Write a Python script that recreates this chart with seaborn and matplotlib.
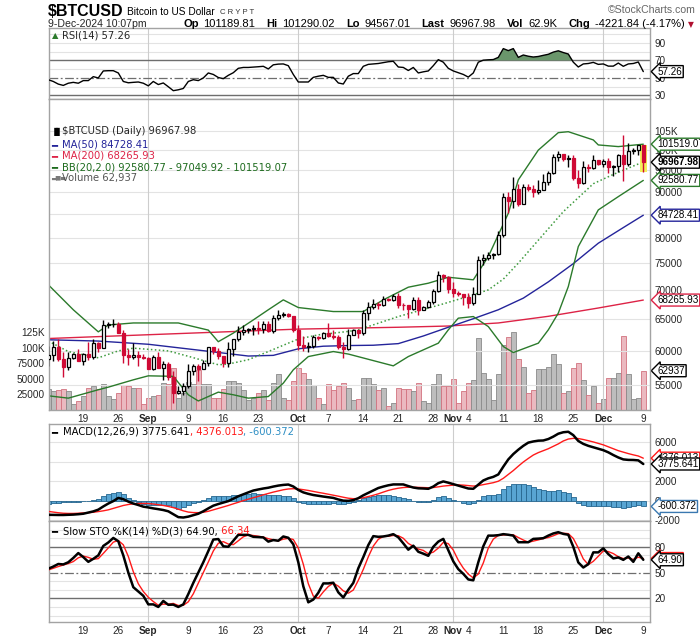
import numpy as np
import pandas as pd
import matplotlib
matplotlib.use("Agg")
import matplotlib.pyplot as plt
import matplotlib.transforms as mtransforms
from matplotlib.ticker import NullLocator
import seaborn as sns

# ---------------- data ----------------
dates = pd.date_range("2024-08-12", "2024-12-09", freq="D")

opens = [58720, 59350, 60610, 58740, 57560, 58880, 59480, 58480, 59490, 59010,
         61160, 60380, 64090, 64180, 64220, 62830, 59420, 59020, 59360, 59120,
         58970, 57300, 59120, 57480, 57970, 56160, 53950, 54140, 54840, 57020,
         57650, 57340, 58130, 60570, 60000, 59180, 58210, 60310, 61760, 62950,
         63200, 63350, 63580, 63340, 64280, 63140, 65180, 65800, 65880, 65600,
         63330, 60840, 60630, 60750, 62090, 62050, 62820, 62220, 62130, 60580,
         60270, 62450, 63190, 62850, 66050, 67040, 67610, 67400, 68420, 68360,
         69000, 67370, 67360, 66680, 68200, 66640, 67010, 67930, 69900, 72720,
         72340, 70220, 69480, 69310, 68740, 67810, 69360, 75640, 75900, 76550,
         76680, 80470, 88700, 87950, 90580, 87250, 91070, 90600, 89850, 90460,
         92310, 94290, 98320, 98900, 97700, 98000, 93040, 91990, 95860, 95640,
         97460, 96450, 97280, 95860, 96000, 98770, 96600, 99900, 99920, 101190]
highs = [60680, 61570, 61780, 59830, 59820, 59670, 60260, 59600, 61400, 61800,
         61400, 64950, 64500, 65000, 64480, 63200, 60230, 61170, 59900, 59440,
         59050, 59410, 59810, 58510, 58300, 56990, 54840, 55300, 58050, 58040,
         57990, 58590, 60650, 60640, 60390, 59200, 61320, 61790, 63850, 64120,
         63560, 63990, 64740, 64690, 64790, 65790, 66480, 66260, 66070, 65620,
         64130, 62360, 61430, 62440, 62360, 62970, 64470, 63180, 62530, 61300,
         63400, 63460, 63270, 66480, 67880, 68380, 67900, 68990, 68690, 69380,
         69500, 67820, 67460, 68800, 68750, 67320, 68220, 70230, 73580, 72960,
         72660, 71560, 69890, 69360, 69440, 70540, 76400, 76850, 77200, 76900,
         81470, 89600, 89960, 93430, 91760, 91850, 91770, 91440, 92590, 94000,
         94830, 98960, 99660, 98900, 98650, 98870, 94970, 97210, 96650, 98690,
         97460, 97840, 98130, 96320, 99000, 103900, 101900, 100550, 101400, 101290]
lows = [57690, 58470, 58520, 56140, 57100, 58800, 58430, 57840, 58600, 58800,
        59800, 60350, 63600, 63800, 62800, 58100, 57860, 58800, 57770, 58740,
        57220, 57140, 57430, 55670, 55740, 52550, 53750, 53650, 54590, 56410,
        55570, 57320, 57660, 59580, 58700, 57500, 57620, 59210, 61580, 62380,
        62760, 62390, 62640, 62740, 62960, 62700, 64840, 65460, 65420, 62860,
        60170, 59990, 59860, 60490, 61700, 61840, 62130, 61820, 60310, 58900,
        60050, 62400, 62060, 62440, 64850, 66750, 66680, 67180, 68020, 68160,
        66820, 66620, 65290, 66520, 65750, 66620, 66840, 67620, 69730, 71440,
        69590, 68820, 69030, 67480, 66820, 67460, 69300, 74550, 75600, 75850,
        76500, 80220, 85150, 86260, 86670, 87080, 90090, 88770, 89390, 90390,
        91550, 94120, 97180, 97230, 95790, 92600, 90790, 91820, 94680, 95400,
        96170, 95720, 94300, 93620, 94660, 92350, 95980, 99020, 98770, 94567]
closes = [59350, 60610, 58740, 57560, 58880, 59480, 58480, 59490, 59010, 61160,
          60380, 64090, 64180, 64220, 62830, 59420, 59020, 59360, 59120, 58970,
          57300, 59120, 57480, 57970, 56160, 53950, 54140, 54840, 57020, 57650,
          57340, 58130, 60570, 60000, 59180, 58210, 60310, 61760, 62950, 63200,
          63350, 63580, 63340, 64280, 63140, 65180, 65800, 65880, 65600, 63330,
          60840, 60630, 60750, 62090, 62050, 62820, 62220, 62130, 60580, 60270,
          62450, 63190, 62850, 66050, 67040, 67610, 67400, 68420, 68360, 69000,
          67370, 67360, 66680, 68200, 66640, 67010, 67930, 69900, 72720, 72340,
          70220, 69480, 69310, 68740, 67810, 69360, 75640, 75900, 76550, 76680,
          80470, 88700, 87950, 90580, 87250, 91070, 90600, 89850, 90460, 92310,
          94290, 98320, 98900, 97700, 98000, 93040, 91990, 95860, 95640, 97460,
          96450, 97280, 95860, 96000, 98770, 96600, 99900, 99920, 101190, 96968]
volume = [33700, 30400, 32000, 34000, 30000, 9000, 14000, 23000, 36000, 38000,
          34000, 42000, 22000, 17000, 27000, 40000, 38000, 35000, 35000, 10000,
          20000, 23000, 24000, 44000, 42000, 68000, 20000, 27000, 45000, 42000,
          64000, 42000, 42000, 19000, 20000, 34000, 47000, 47000, 44000, 32000,
          16000, 20000, 27000, 32000, 16000, 44000, 58000, 19000, 16000, 47000,
          68000, 59000, 49000, 40000, 20000, 10000, 42000, 32000, 38000, 44000,
          36000, 16000, 17000, 51000, 52000, 41000, 32000, 36000, 7000, 12000,
          36000, 33000, 33000, 31000, 44000, 14000, 12000, 41000, 57000, 38000,
          39000, 49000, 11000, 30000, 43000, 47500, 115000, 59000, 50000, 16000,
          58000, 104000, 116500, 124500, 81000, 69000, 27000, 31500, 65000, 65000,
          69000, 89000, 74000, 28000, 30000, 68000, 76000, 47500, 23500, 39000,
          12000, 17000, 52000, 52000, 59000, 119000, 57000, 17000, 19000, 62937]

ma50_idx = [0, 10, 20, 30, 40, 45, 50, 55, 60, 65, 70, 75, 80, 85, 90, 95, 100, 105, 110, 115, 119]
ma50_val = [61700, 61500, 61000, 60100, 59200, 59300, 60300, 60700, 60800, 60850, 61100,
            62300, 63700, 65100, 66600, 68600, 71500, 74900, 78900, 82100, 84728]
ma200_idx = [0, 10, 20, 30, 40, 50, 60, 70, 80, 90, 100, 110, 119]
ma200_val = [61900, 62200, 62500, 62800, 63100, 63400, 63550, 63700, 63900, 64400, 65500, 66900, 68266]

bbu_idx = [0, 5, 10, 12, 17, 26, 32, 34, 37, 41, 44, 47, 50, 57, 63, 67, 72, 76, 80, 85,
           88, 92, 94, 98, 102, 104, 109, 110, 114, 119]
bbu_val = [70980, 66600, 62960, 64070, 64400, 64400, 63240, 61400, 62760, 64900, 66600, 68300,
           66980, 66300, 66300, 68300, 70540, 71260, 72350, 71880, 76260, 85150, 92700, 100000,
           104550, 104800, 102630, 101330, 100900, 101519]
bbm_idx = [0, 4, 10, 14, 17, 24, 28, 34, 36, 40, 44, 48, 50, 54, 60, 62, 70, 79, 85, 88,
           91, 94, 98, 103, 109, 113, 119]
bbm_val = [61500, 59880, 58930, 59980, 60400, 59980, 59160, 57900, 58000, 58650, 59880, 61170,
           61820, 62480, 63030, 63280, 65460, 67610, 69180, 70060, 72000, 75000, 79500, 85500,
           91800, 94000, 97050]
bbl_idx = [0, 4, 10, 12, 17, 20, 25, 28, 30, 34, 37, 40, 44, 47, 49, 52, 57, 60, 69, 72,
           78, 80, 82, 85, 88, 91, 93, 98, 100, 102, 104, 106, 110, 114, 119]
bbl_val = [53500, 53180, 54330, 54690, 55720, 56290, 56220, 53640, 52800, 54000, 53640, 53180,
           53400, 55250, 57160, 59120, 59880, 59500, 57740, 59120, 61170, 63280, 65190, 65460,
           63810, 60650, 59730, 61170, 63280, 66030, 70650, 78230, 85880, 88830, 92581]

rsi = [48, 46, 43, 41.5, 44, 45, 44, 47, 47, 51.5, 50, 58, 58.3, 58.3, 55.7, 46, 44.5, 45, 45.4, 44,
       41, 46, 42.5, 44.3, 40, 35.5, 36.5, 38, 46, 48, 47, 50, 55.7, 54, 50.5, 49.2, 53, 56, 61, 62,
       62, 62.4, 62.8, 63.3, 60.3, 65, 65.8, 66, 64, 54, 45.4, 45.4, 45.4, 50.7, 52, 53, 50.7, 50.7, 44.3, 43.1,
       52, 55, 55, 63.3, 65.5, 66, 66.5, 67.5, 68.5, 69, 62.5, 62, 58.5, 62, 55.7, 57, 58, 64, 70.9, 68,
       61, 58, 56, 54, 51, 55.7, 68, 70.3, 70.7, 71, 73.5, 83.5, 81.2, 83.5, 73.5, 76.2, 74.8, 73.9, 74.5, 75.8,
       77, 79.5, 81, 79, 77.3, 68, 62.5, 66, 66.5, 67.8, 65.5, 66, 63.5, 63.5, 67, 63.3, 66, 66.5, 68.2, 57.26]

macd = [-1460, -1470, -1480, -1480, -1460, -1440, -1400, -1350, -1230, -1110,
        -930, -600, -300, -50, 280, 150, -100, -300, -450, -620,
        -700, -800, -880, -970, -1100, -1400, -1700, -1740, -1650, -1500,
        -1350, -1100, -800, -520, -350, -200, -50, 200, 450, 650,
        850, 1040, 1150, 1250, 1330, 1450, 1550, 1620, 1660, 1460,
        1100, 850, 700, 580, 500, 420, 350, 280, 120, 0,
        -20, 50, 250, 550, 800, 1050, 1300, 1450, 1580, 1670,
        1670, 1670, 1500, 1350, 1270, 1250, 1220, 1450, 1800, 1980,
        1850, 1700, 1550, 1400, 1250, 1220, 1650, 2080, 2300, 2450,
        2700, 3500, 4250, 4800, 5250, 5650, 5980, 6100, 6180, 6200,
        6350, 6600, 6900, 7050, 7100, 6750, 6150, 5850, 5650, 5500,
        5350, 5200, 4980, 4700, 4450, 4250, 4200, 4190, 4150, 3776]
signal = [-1110, -1180, -1250, -1300, -1320, -1320, -1300, -1270, -1240, -1200,
          -1130, -1050, -950, -800, -650, -500, -400, -330, -300, -290,
          -300, -350, -420, -500, -600, -720, -880, -1050, -1180, -1230,
          -1240, -1200, -1100, -950, -800, -650, -500, -330, -170, 0,
          150, 300, 440, 600, 740, 880, 1000, 1120, 1200, 1230,
          1200, 1130, 1050, 950, 850, 760, 660, 560, 460, 350,
          250, 200, 220, 300, 420, 550, 700, 880, 1050, 1180,
          1280, 1350, 1380, 1380, 1370, 1350, 1330, 1350, 1420, 1500,
          1550, 1600, 1620, 1600, 1550, 1500, 1550, 1650, 1750, 1850,
          2000, 2300, 2700, 3100, 3550, 3980, 4350, 4700, 4950, 5150,
          5350, 5600, 5850, 6150, 6350, 6420, 6400, 6300, 6180, 6050,
          5900, 5750, 5550, 5350, 5150, 5000, 4850, 4720, 4600, 4376]
hist = [-350, -290, -230, -180, -140, -120, -100, -80, 10, 90,
        200, 450, 650, 750, 900, 650, 300, 30, -150, -330,
        -400, -450, -460, -470, -500, -680, -820, -690, -470, -270,
        -110, 100, 300, 430, 450, 450, 450, 530, 620, 650,
        700, 740, 710, 650, 590, 570, 550, 500, 460, 230,
        -100, -280, -350, -370, -350, -340, -310, -280, -340, -350,
        -270, -150, 30, 250, 380, 500, 600, 570, 530, 490,
        390, 320, 120, -30, -100, -100, -110, 100, 380, 480,
        300, 100, -70, -200, -300, -280, 100, 430, 550, 600,
        700, 1200, 1550, 1700, 1700, 1670, 1630, 1400, 1230, 1050,
        1000, 1000, 1050, 900, 750, 330, -250, -450, -530, -550,
        -550, -550, -570, -650, -700, -750, -650, -530, -450, -600]

sto_k = [54.5, 57, 60, 59.5, 62, 67, 72.7, 68, 62.5, 66, 70, 81, 85, 90.3, 86.5, 70, 50, 33, 28, 23,
         13, 13, 10, 17, 12.5, 12.7, 10, 13, 25, 38, 50, 62, 75, 88.4, 89, 80.6, 80, 87, 93.9, 93.9,
         93.9, 91.6, 91.3, 90.9, 86, 87.8, 87, 92, 90.5, 83, 62, 34, 15.4, 18.6, 26.5, 37.4, 37.4, 38.2, 27, 21,
         30, 38, 55, 68, 82, 92.4, 91.6, 92, 93, 94.7, 91, 84, 76.6, 81.3, 74.2, 72, 69.5, 80, 86, 89.2,
         76, 63, 54, 48.5, 42, 41, 62, 80.6, 93, 93, 93.5, 94.7, 94, 93, 85.3, 85.3, 85.3, 89.2, 89.5, 90,
         93, 95.5, 97, 95, 94, 80, 61.8, 55.9, 59.8, 73.5, 73.5, 78.2, 71.5, 66.5, 67.6, 64.8, 68.7, 62.5, 72.4, 64.9]
sto_d = [53, 55, 57, 58.8, 60.5, 62.8, 67.2, 69.2, 67.7, 65.5, 66.2, 72.3, 78.7, 85.4, 87.3, 82.3, 68.8, 51, 37, 28,
         21.3, 16.3, 12, 13.3, 13.2, 14.1, 11.7, 11.9, 16, 25.3, 37.7, 50, 62.3, 75.1, 84.1, 86, 83.2, 82.5, 87, 91.6,
         93.9, 93.1, 92.3, 91.3, 89.4, 88.2, 86.9, 88.9, 89.8, 88.5, 78.5, 59.7, 37.1, 22.7, 20.2, 27.5, 33.8, 37.7, 34.2, 28.7,
         26, 29.7, 41, 53.7, 68.3, 80.8, 88.7, 92, 92.2, 93.2, 92.9, 89.9, 83.9, 80.6, 77.4, 75.8, 71.9, 73.8, 78.5, 85.1,
         83.7, 76.1, 64.3, 55.2, 48.2, 43.8, 48.3, 61.2, 78.5, 88.9, 93.2, 93.7, 94.1, 93.9, 90.8, 87.9, 85.3, 86.6, 88, 89.6,
         90.8, 92.8, 95.2, 95.8, 95.3, 89.7, 78.6, 65.9, 59.2, 63.1, 69, 75.1, 74.4, 72.1, 68.5, 66.3, 67, 65.3, 67.9, 66.34]

tick_idx = [7, 14, 20, 28, 35, 42, 50, 56, 63, 70, 77, 81, 84, 91, 98, 105, 111, 119]
tick_lbl = ["19", "26", "Sep", "9", "16", "23", "Oct", "7", "14", "21", "28", "Nov", "4", "11", "18", "25", "Dec", "9"]
month_idx = [20, 50, 81, 111]

price_ticks = [55000, 60000, 65000, 70000, 75000, 80000, 85000, 90000, 95000, 100000, 105000]
price_lbls = ["55000", "60000", "65000", "70000", "75000", "80000", "85000", "90000", "95000", "100K", "105K"]
vol_ticks = [25000, 50000, 75000, 100000, 125000]
vol_lbls = ["25000", "50000", "75000", "100K", "125K"]

# ---------------- figure ----------------
sns.set_theme(style="white")
plt.rcParams["font.family"] = ["DejaVu Sans"]
ARIAL = ["Liberation Sans", "DejaVu Sans"]

W, H = 700, 639
fig = plt.figure(figsize=(W / 100, H / 100), dpi=100)
fig.patch.set_facecolor("white")


def px_axes(top, bottom, left=49, right=650):
    return fig.add_axes([left / W, 1 - bottom / H, (right - left) / W, (bottom - top) / H])


def ftext(x, y, s, **kw):
    kw.setdefault("va", "center")
    return fig.text(x / W, 1 - y / H, s, **kw)


ax_rsi = px_axes(28, 99)
ax = px_axes(99, 410)
ax_macd = px_axes(424, 521)
ax_sto = px_axes(521, 622)

idx = np.arange(len(dates))
x_lo, x_hi = 0.14, 120.34
GRID = "#e3e3e3"
LEVEL = "#6e6e6e"
TS = 7.2

for a in (ax_rsi, ax, ax_macd, ax_sto):
    a.set_facecolor("white")
    a.set_xlim(x_lo, x_hi)
    for s in a.spines.values():
        s.set_color("#a3a3a3")
        s.set_linewidth(1.0)
    a.tick_params(length=0, labelsize=TS, pad=3)
    a.yaxis.tick_right()
    for m in month_idx:
        a.axvline(m, color="#cdcdcd", lw=0.8, zorder=0.5)
    a.set_xticks(tick_idx)
    a.set_xticklabels([])

# ---------------- RSI ----------------
rsi_arr = np.array(rsi)
ax_rsi.set_ylim(26, 107)
for v in [40, 60, 80, 90, 100]:
    ax_rsi.axhline(v, color=GRID, lw=0.8, zorder=0.4)
ax_rsi.axhline(70, color=LEVEL, lw=1.0, zorder=1)
ax_rsi.axhline(30, color=LEVEL, lw=1.0, zorder=1)
ax_rsi.axhline(50, color=LEVEL, lw=0.9, ls=(0, (7, 2, 1.5, 2)), zorder=1)
ax_rsi.fill_between(idx, rsi_arr, 70, where=rsi_arr > 70, interpolate=True,
                    color="#6a966b", zorder=1.5, lw=0)
sns.lineplot(x=idx, y=rsi_arr, ax=ax_rsi, color="black", lw=1.0, zorder=3)
ax_rsi.set_yticks([30, 50, 70, 90])
ax_rsi.set_yticklabels(["30", "50", "70", "90"], family=ARIAL)
ax_rsi.set_xlabel("")
ax_rsi.set_ylabel("")

# ---------------- price + volume ----------------
ax_vol = ax.twinx()
ax_vol.set_xlim(x_lo, x_hi)
ax_vol.set_ylim(0, 498400)
ax.set_zorder(ax_vol.get_zorder() + 1)
ax.patch.set_visible(False)
ax_vol.patch.set_visible(True)
ax_vol.patch.set_facecolor("white")

prev = [opens[0]] + closes[:-1]
up_vol = [c >= p for c, p in zip(closes, prev)]
ax_vol.bar(idx, volume, width=1.0,
           color=["#bdbdbd" if u else "#ebb9c0" for u in up_vol],
           edgecolor=["#8a8a8a" if u else "#d2727f" for u in up_vol], linewidth=0.6, zorder=1)
ax_vol.yaxis.set_ticks_position("left")
ax_vol.tick_params(axis="y", labelleft=True, labelright=False, length=0, labelsize=TS, pad=3)
ax_vol.set_yticks(vol_ticks)
ax_vol.set_yticklabels(vol_lbls, family=ARIAL)
for s in ax_vol.spines.values():
    s.set_visible(False)
ax_vol.grid(False)

ax.set_yscale("log")
ax.set_ylim(51600, 113900)
ax.set_yticks(price_ticks)
ax.set_yticklabels(price_lbls, family=ARIAL)
ax.yaxis.set_minor_locator(NullLocator())
ax.yaxis.set_ticks_position("right")
ax.tick_params(axis="y", labelleft=False, labelright=True, length=0, labelsize=TS, pad=3)
for v in price_ticks:
    ax.axhline(v, color=GRID, lw=0.8, zorder=0.4)

sns.lineplot(x=ma200_idx, y=ma200_val, ax=ax, color="#dd2346", lw=1.0, zorder=2)
sns.lineplot(x=ma50_idx, y=ma50_val, ax=ax, color="#24249a", lw=1.0, zorder=2)
sns.lineplot(x=bbu_idx, y=bbu_val, ax=ax, color="#2b7a2b", lw=1.0, zorder=2)
sns.lineplot(x=bbl_idx, y=bbl_val, ax=ax, color="#2b7a2b", lw=1.0, zorder=2)
sns.lineplot(x=bbm_idx, y=bbm_val, ax=ax, color="#3f9b3f", lw=1.1, ls=(0, (1, 1.6)), zorder=2)

# highlight of the last bar
ax.bar(idx[-1], highs[-1] - lows[-1], bottom=lows[-1], width=1.5, color="#f4ef5a", zorder=2.5, lw=0)

o = np.array(opens); c = np.array(closes); hi = np.array(highs); lo = np.array(lows)
up = c >= o
RED = "#cf0a35"
ax.vlines(idx[up], lo[up], hi[up], color="black", lw=1.0, zorder=3)
ax.vlines(idx[~up], lo[~up], hi[~up], color=RED, lw=1.0, zorder=3)
body_lo = np.minimum(o, c)
body_h = np.maximum(np.abs(c - o), 60)
ax.bar(idx[up], body_h[up], bottom=body_lo[up], width=0.66, color="white",
       edgecolor="black", linewidth=0.9, zorder=4)
ax.bar(idx[~up], body_h[~up], bottom=body_lo[~up], width=0.66, color=RED,
       edgecolor=RED, linewidth=0.9, zorder=4)
ax.set_xlabel("")
ax.set_ylabel("")
ax.set_xticklabels(tick_lbl, family=ARIAL)
for t, l in zip(ax.get_xticklabels(), tick_lbl):
    if l in ("Sep", "Oct", "Nov", "Dec"):
        t.set_fontweight("bold")

# ---------------- MACD ----------------
ax_macd.set_ylim(-2100, 7900)
for v in [-2000, 0, 2000, 4000, 6000]:
    ax_macd.axhline(v, color=GRID, lw=0.8, zorder=0.4)
ax_macd.bar(idx, hist, width=1.0, color="#58a5d3", edgecolor="#26668f", linewidth=0.6, zorder=1.5)
sns.lineplot(x=idx, y=signal, ax=ax_macd, color="#ff1a1a", lw=1.0, zorder=3)
sns.lineplot(x=idx, y=macd, ax=ax_macd, color="black", lw=1.8, zorder=3)
ax_macd.set_yticks([-2000, 0, 2000, 4000, 6000])
ax_macd.set_yticklabels(["-2000", "0", "2000", "4000", "6000"], family=ARIAL)
ax_macd.set_xlabel("")
ax_macd.set_ylabel("")

# ---------------- Slow stochastic ----------------
ax_sto.set_ylim(-7.5, 110)
for v in [0, 10, 30, 40, 60, 70, 90, 100]:
    ax_sto.axhline(v, color=GRID, lw=0.8, zorder=0.4)
ax_sto.axhline(80, color=LEVEL, lw=1.0, zorder=1)
ax_sto.axhline(20, color=LEVEL, lw=1.0, zorder=1)
ax_sto.axhline(50, color=LEVEL, lw=0.9, ls=(0, (7, 2, 1.5, 2)), zorder=1)
sns.lineplot(x=idx, y=sto_d, ax=ax_sto, color="#ff1a1a", lw=1.0, zorder=3)
sns.lineplot(x=idx, y=sto_k, ax=ax_sto, color="black", lw=1.8, zorder=3)
ax_sto.set_yticks([20, 50, 80])
ax_sto.set_yticklabels(["20", "50", "80"], family=ARIAL)
ax_sto.set_xlabel("")
ax_sto.set_ylabel("")
ax_sto.set_xticklabels(tick_lbl, family=ARIAL)
for t, l in zip(ax_sto.get_xticklabels(), tick_lbl):
    if l in ("Sep", "Oct", "Nov", "Dec"):
        t.set_fontweight("bold")


# ---------------- value tags on the right ----------------
def tag(axis, y, label, ec, bold=False):
    tr = mtransforms.blended_transform_factory(axis.transAxes, axis.transData)
    axis.text(1.0125, y, label, transform=tr, ha="left", va="center", fontsize=7.1,
              family=ARIAL, fontweight="bold" if bold else "normal", color="black",
              bbox=dict(boxstyle="larrow,pad=0.1", fc="white", ec=ec, lw=1.0),
              clip_on=False, zorder=20)


tag(ax_rsi, 57.26, "57.26", "black")
tag(ax, 101519.07, "101519.07", "#2b7a2b")
tag(ax, 92580.77, "92580.77", "#2b7a2b")
tag(ax, 96967.98, "96967.98", "black", bold=True)
tag(ax, 84728.41, "84728.41", "#24249a")
tag(ax, 68265.93, "68265.93", "#dd2346")
tag(ax_vol, 62937, "62937", "black")
tag(ax_macd, 4376.013, "4376.013", "#ff1a1a")
tag(ax_macd, 3775.641, "3775.641", "black")
tag(ax_macd, -600.372, "-600.372", "#3a78b0")
tag(ax_sto, 66.34, "66.34", "#ff1a1a")
tag(ax_sto, 64.90, "64.90", "black")

# ---------------- legends / header ----------------
renderer = fig.canvas.get_renderer()


def chain(parts, x0, y0, size, family):
    x = x0
    for s, color, weight, gap in parts:
        t = ftext(x, y0, s, fontsize=size, color=color, fontweight=weight, family=family, ha="left")
        x += t.get_window_extent(renderer).width + gap
    return x


LS = 7.2
ftext(52, 36, "\u25b2", fontsize=6, color="#2b7a2b", ha="left")
ftext(62, 36, "RSI(14) 57.26", fontsize=LS, ha="left")

ftext(51, 131, "\u2590\u258c", fontsize=6, color="black", ha="left")
ftext(62, 131, "$BTCUSD (Daily) 96967.98", fontsize=LS, ha="left")
ftext(51, 145, "\u2501", fontsize=LS, color="#24249a", ha="left")
ftext(62, 145, "MA(50) 84728.41", fontsize=LS, color="#24249a", ha="left")
ftext(51, 156, "\u2501", fontsize=LS, color="#dd2346", ha="left")
ftext(62, 156, "MA(200) 68265.93", fontsize=LS, color="#dd2346", ha="left")
ftext(51, 167, "\u2501", fontsize=LS, color="#1d6b1d", ha="left")
ftext(62, 167, "BB(20,2.0) 92580.77 - 97049.92 - 101519.07", fontsize=LS, color="#1d6b1d", ha="left")
ftext(51, 178, "\u2583\u2586\u2584", fontsize=4.5, color="#7a7a7a", ha="left")
ftext(62, 178, "Volume 62,937", fontsize=LS, color="#555555", ha="left")

ftext(51, 432, "\u2501", fontsize=LS, color="black", ha="left")
chain([("MACD(12,26,9) 3775.641", "black", "normal", 0), (", 4376.013", "#ff1a1a", "normal", 0),
       (", -600.372", "#2f8fc4", "normal", 0)], 63, 432, LS, ["DejaVu Sans"])
ftext(51, 531, "\u2501", fontsize=LS, color="black", ha="left")
chain([("Slow STO %K(14) %D(3) 64.90,", "black", "normal", 0), (" 66.34", "#ff1a1a", "normal", 0)],
      63, 531, LS, ["DejaVu Sans"])

x_end = chain([("$BTCUSD", "black", "bold", 3)], 48, 11, 11.5, ARIAL)
x_end = chain([("Bitcoin to US Dollar", "black", "normal", 6)], x_end, 12, 7.3, ARIAL)
ftext(x_end, 12.5, "C R Y P T", fontsize=5.6, color="#333333", family=ARIAL, ha="left")
ftext(696, 10, "\u00a9StockCharts.com", fontsize=7.6, color="#666666", family=ARIAL, ha="right")
ftext(48, 24, "9-Dec-2024 10:07pm", fontsize=7.6, family=ARIAL, ha="left")
x_end = chain([("Op", "black", "bold", 5), ("101189.81", "black", "normal", 11),
               ("Hi", "black", "bold", 5), ("101290.02", "black", "normal", 11),
               ("Lo", "black", "bold", 5), ("94567.01", "black", "normal", 11),
               ("Last", "black", "bold", 5), ("96967.98", "black", "normal", 11),
               ("Vol", "black", "bold", 5), ("62.9K", "black", "normal", 11),
               ("Chg", "black", "bold", 5), ("-4221.84 (-4.17%)", "black", "normal", 3)],
              183, 24, 8.0, ARIAL)
ftext(x_end, 24.5, "\u25bc", fontsize=5.5, color="#b01030", ha="left")

fig.savefig("out.png", dpi=100, facecolor="white")
